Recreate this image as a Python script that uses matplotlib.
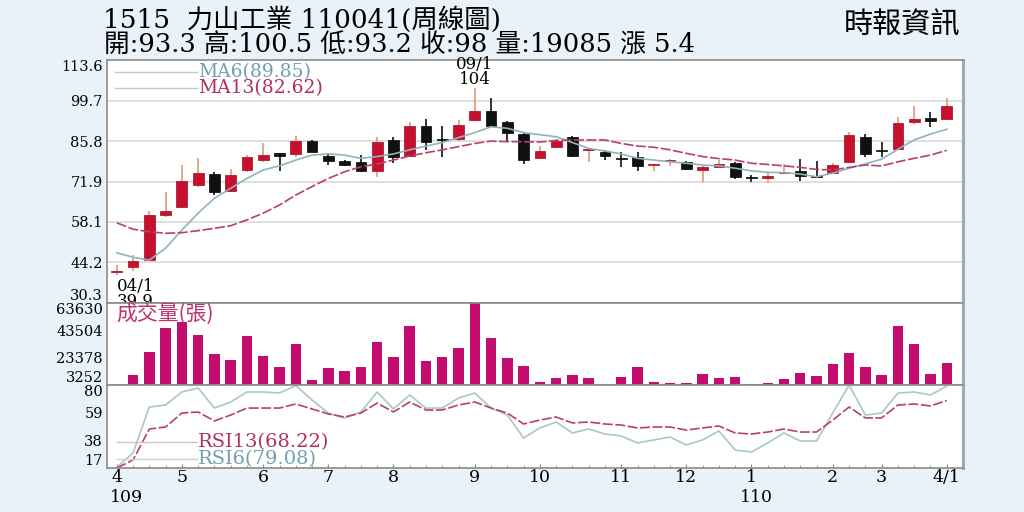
import numpy as np
import matplotlib.pyplot as plt

plt.rcParams['font.family'] = ['DejaVu Serif', 'Noto Sans CJK TC', 'DejaVu Sans']

# weekly data 109/04 - 110/04 (52 weeks)
opens = [41.0, 42.7, 45.0, 60.5, 63.3, 70.8, 74.4, 68.7, 75.9, 79.3,
         81.6, 81.3, 85.9, 80.8, 79.1, 78.5, 75.5, 86.2, 80.7, 91.0,
         86.3, 86.4, 93.0, 96.1, 92.5, 88.2, 80.1, 83.7, 87.1, 82.9,
         82.2, 80.0, 80.2, 77.7, 78.9, 78.5, 75.9, 77.0, 78.4, 73.5,
         73.3, 74.9, 75.6, 73.7, 75.0, 78.7, 87.3, 82.5, 83.0, 92.5,
         93.8, 93.3]
highs = [43.3, 46.8, 61.9, 68.5, 77.6, 79.9, 75.3, 76.1, 81.0, 85.3,
         81.8, 87.5, 86.2, 81.6, 79.3, 81.0, 87.1, 87.3, 92.2, 93.3,
         91.0, 93.0, 104.0, 100.5, 92.8, 88.7, 84.1, 86.4, 87.5, 83.2,
         82.8, 82.2, 82.2, 78.0, 79.6, 79.0, 77.3, 79.3, 78.7, 74.2,
         74.8, 77.8, 79.7, 79.1, 78.4, 88.8, 88.2, 85.6, 94.2, 97.8,
         95.7, 100.5]
lows = [39.9, 41.3, 44.7, 59.9, 62.9, 70.2, 67.3, 68.5, 75.3, 78.7,
        75.6, 80.5, 82.0, 77.6, 77.3, 75.3, 73.4, 78.2, 80.5, 82.8,
        80.5, 86.0, 92.8, 91.0, 85.6, 77.9, 79.9, 83.7, 80.5, 78.7,
        79.3, 77.0, 75.6, 75.6, 77.3, 75.9, 71.9, 76.8, 72.7, 71.9,
        71.3, 74.5, 72.2, 73.4, 74.8, 78.5, 80.5, 80.5, 82.8, 91.6,
        90.7, 93.2]
closes = [41.3, 44.7, 60.5, 61.9, 72.2, 74.8, 68.5, 74.2, 80.2, 81.0,
          80.7, 85.8, 82.0, 79.1, 77.6, 75.5, 85.6, 80.5, 91.0, 85.6,
          86.1, 91.3, 96.2, 91.1, 88.5, 79.3, 82.4, 85.8, 80.8, 83.0,
          80.7, 79.7, 77.3, 77.9, 79.0, 76.1, 76.8, 77.9, 73.4, 73.3,
          73.9, 75.0, 73.8, 73.5, 77.6, 87.9, 81.3, 82.3, 92.1, 93.4,
          92.7, 98.0]
ma6 = [47.5, 46.0, 45.0, 49.1, 55.3, 61.1, 66.2, 69.6, 73.0, 75.9,
       77.3, 79.3, 81.0, 81.4, 81.0, 79.9, 80.5, 81.4, 82.8, 84.1,
       85.3, 87.0, 88.7, 90.7, 90.2, 88.7, 88.0, 87.3, 85.3, 83.3,
       82.4, 81.4, 79.9, 79.3, 78.7, 78.2, 77.6, 77.3, 76.5, 75.6,
       75.1, 75.0, 74.5, 73.6, 74.8, 76.5, 78.0, 79.6, 83.0, 86.2,
       88.2, 89.85]
ma13 = [57.8, 55.6, 54.7, 54.2, 54.4, 55.1, 55.9, 56.8, 58.8, 61.1,
        63.9, 67.3, 70.2, 73.0, 75.3, 77.0, 77.9, 79.3, 80.7, 81.8,
        82.8, 83.9, 85.0, 85.8, 85.6, 85.6, 85.5, 86.0, 86.2, 86.2,
        86.2, 85.0, 84.1, 83.7, 82.8, 81.6, 80.5, 79.8, 79.3, 78.2,
        77.8, 77.3, 76.8, 76.1, 75.9, 76.8, 77.6, 77.3, 78.7, 79.9,
        81.0, 82.62]
volume = [3252, 10600, 27770, 45000, 49420, 40070, 25850, 21660, 39550, 24600,
          16280, 33660, 6930, 15550, 13780, 16280, 35130, 23640, 46690, 20920,
          23870, 30720, 63630, 37640, 22910, 16900, 5240, 8630, 10620, 8630,
          3300, 8920, 16730, 5680, 4950, 4480, 11130, 8630, 8920, 4210,
          4480, 7450, 11870, 10100, 18710, 26590, 16730, 10620, 46910, 33660,
          11130, 19085]
rsi6 = [17.5, 28.4, 63.3, 64.8, 74.7, 77.7, 62.5, 67.1, 74.7, 74.7,
        73.9, 79.5, 68.6, 58.7, 55.0, 59.5, 74.7, 61.8, 72.4, 62.5,
        62.5, 70.1, 73.9, 62.5, 57.2, 39.8, 47.4, 51.9, 43.6, 46.6,
        42.8, 41.3, 36.0, 38.3, 40.5, 34.5, 38.3, 45.1, 30.7, 29.1,
        36.0, 43.6, 37.5, 37.5, 58.7, 80.0, 57.2, 58.7, 73.9, 74.7,
        72.4, 79.08]
rsi13 = [17.0, 23.1, 46.6, 48.1, 58.7, 59.5, 52.7, 57.2, 62.5, 62.5,
         62.5, 65.6, 61.8, 58.0, 55.7, 58.7, 66.3, 59.5, 67.1, 61.0,
         61.0, 64.8, 67.1, 62.5, 58.7, 50.4, 53.4, 55.7, 51.2, 51.9,
         50.4, 49.6, 47.4, 48.1, 48.1, 45.8, 47.4, 48.9, 43.6, 42.8,
         44.3, 46.6, 44.3, 44.3, 53.4, 63.3, 55.0, 55.0, 64.8, 65.6,
         64.1, 68.22]

month_pos = [0, 4, 9, 13, 17, 22, 26, 31, 35, 39, 44, 47, 51]
month_labels = ['4', '5', '6', '7', '8', '9', '10', '11', '12', '1', '2', '3', '4/1']
price_ticks = [30.3, 44.2, 58.1, 71.9, 85.8, 99.7, 113.6]
vol_ticks = [3252, 23378, 43504, 63630]
rsi_ticks = [17, 38, 59, 80]

x = np.arange(len(closes))
o = np.array(opens); c = np.array(closes)
up = c >= o

bg = '#e9f1f9'
red = '#c8102e'
wick_up = '#d99a78'
mag = '#c20d6e'
blue_line = '#8fb3bf'
pink_line = '#b8406a'
cjk = ['DejaVu Serif', 'Noto Sans CJK TC', 'DejaVu Sans']

fig = plt.figure(figsize=(10.24, 5.12), dpi=100, facecolor=bg)
L, W = 107 / 1024, 856 / 1024
ax1 = fig.add_axes([L, 1 - 303 / 512, W, 243 / 512])
ax2 = fig.add_axes([L, 1 - 385 / 512, W, 82 / 512], sharex=ax1)
ax3 = fig.add_axes([L, 1 - 468 / 512, W, 83 / 512], sharex=ax1)

# price panel
for yv in price_ticks[1:-1]:
    ax1.axhline(yv, color='#dcdcdc', lw=1.3, zorder=0)
ax1.vlines(x[up], np.array(lows)[up], np.array(highs)[up], color=wick_up, lw=1.2, zorder=2)
ax1.vlines(x[~up], np.array(lows)[~up], np.array(highs)[~up], color='#111111', lw=1.2, zorder=2)
body = np.maximum(np.abs(c - o), 0.35)
ax1.bar(x[up], body[up], bottom=np.minimum(o, c)[up], width=0.66, color=red,
        edgecolor='#9a0a20', lw=0.5, zorder=3)
ax1.bar(x[~up], body[~up], bottom=np.minimum(o, c)[~up], width=0.66, color='#111111',
        edgecolor='#000000', lw=0.5, zorder=3)
ax1.plot(x, ma6, color=blue_line, lw=1.2, zorder=4)
ax1.plot(x, ma13, color=pink_line, lw=1.2, dashes=(6, 1.5), zorder=4)
ax1.set_ylim(30.3, 113.6)
ax1.set_yticks(price_ticks)
ax1.set_yticklabels([f'{v:.1f}' for v in price_ticks])

ax1.plot([-0.1, 4.9], [109.6, 109.6], color='#c8c8c8', lw=1)
ax1.plot([-0.1, 4.9], [103.9, 103.9], color='#c8c8c8', lw=1)
ax1.text(5.0, 109.6, 'MA6(89.85)', color='#6f9fb2', fontsize=13.5, va='center')
ax1.text(5.0, 103.9, 'MA13(82.62)', color='#b0305a', fontsize=13.5, va='center')

ax1.text(0.0, 33.4, '04/1\n39.9', fontsize=12, ha='left', va='center', linespacing=0.85,
         clip_on=True)
ax1.text(22, 109.6, '09/1\n104', fontsize=12, ha='center', va='center', linespacing=0.85)

# volume panel
ax2.bar(x, volume, width=0.64, color=mag, zorder=2)
ax2.set_ylim(3252, 63630)
ax2.set_yticks(vol_ticks)
ax2.set_yticklabels([str(v) for v in vol_ticks])
ax2.text(0.0, 56000, '成交量(張)', color='#c0306a', fontsize=15, va='center',
         family=['Noto Sans CJK TC', 'DejaVu Sans'])

# rsi panel
ax3.plot(x, rsi6, color='#a9c6cc', lw=1.2)
ax3.plot(x, rsi13, color=pink_line, lw=1.2, dashes=(6, 1.5))
ax3.set_ylim(17, 80)
ax3.set_yticks(rsi_ticks)
ax3.set_yticklabels([str(v) for v in rsi_ticks])
ax3.plot([0, 4.9], [36.5, 36.5], color='#d8c0c8', lw=1)
ax3.plot([0, 4.9], [23.5, 23.5], color='#c8d4d8', lw=1)
ax3.text(5.0, 36.5, 'RSI13(68.22)', color='#b0305a', fontsize=14, va='center')
ax3.text(5.0, 23.5, 'RSI6(79.08)', color='#6f9fb2', fontsize=14, va='center')

ax3.set_xlim(-0.6, 52.0)
ax3.set_xticks(month_pos)
ax3.set_xticklabels(month_labels, fontsize=12.5)
ax3.set_xticks(x, minor=True)
ax3.tick_params(axis='x', which='minor', direction='in', length=2.5, color='#888888')
ax3.tick_params(axis='x', which='major', direction='in', length=3, color='#888888', pad=1)
ax3.text(0.6, -0.35, '109', transform=ax3.get_xaxis_transform(), fontsize=12.5, ha='center', va='center')
ax3.text(39.3, -0.35, '110', transform=ax3.get_xaxis_transform(), fontsize=12.5, ha='center', va='center')

for ax in (ax1, ax2, ax3):
    ax.set_facecolor('white')
    for s in ax.spines.values():
        s.set_color('#8a8a8a')
        s.set_linewidth(1.2)
    ax.spines['right'].set_linewidth(2.2)
    ax.spines['right'].set_color('#a0a8b0')
    ax.tick_params(axis='y', length=0, labelsize=10.5, pad=3)
    labels = ax.get_yticklabels()
    labels[0].set_va('bottom')
    labels[-1].set_va('top')
ax1.tick_params(axis='x', labelbottom=False, length=0)
ax2.tick_params(axis='x', labelbottom=False, length=0)

fig.text(103 / 1024, 1 - 20 / 512, '1515  力山工業 110041(周線圖)', fontsize=19, va='center', family=cjk)
fig.text(104 / 1024, 1 - 45 / 512, '開:93.3 高:100.5 低:93.2 收:98 量:19085 漲 5.4',
         fontsize=18.5, va='center', family=cjk)
fig.text(960 / 1024, 1 - 25 / 512, '時報資訊', fontsize=21, ha='right', va='center', family=cjk)

fig.savefig('out.png', dpi=100, facecolor=bg)
